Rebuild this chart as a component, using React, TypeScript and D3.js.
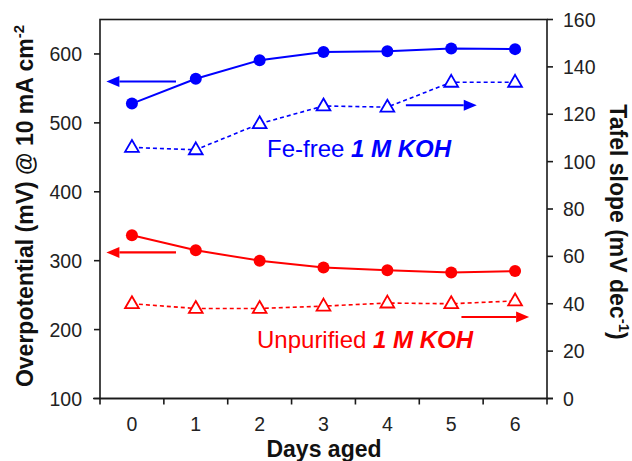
import React from "react";
import * as d3 from "d3";

// Days aged (x categories)
const days = [0, 1, 2, 3, 4, 5, 6];

// Overpotential @ 10 mA cm-2 (left axis, mV)
const overpotFeFree = [528, 564, 591, 603, 604, 608, 607];
const overpotUnpurified = [337, 315, 300, 290, 286, 283, 285];

// Tafel slope (right axis, mV dec-1)
const tafelFeFree = [106, 105, 116, 123.5, 123, 133.5, 133.5];
const tafelUnpurified = [40, 38, 38, 39, 40.3, 40, 41.2];

// Tick values
const leftTicks = [100, 200, 300, 400, 500, 600];
const rightTicks = [0, 20, 40, 60, 80, 100, 120, 140, 160];

// Axis-pointer arrows: from day, to day, value, axis, colour
const arrowFrom = [0.69, 4.29, 0.69, 5.16];
const arrowTo = [-0.4, 5.4, -0.4, 6.22];
const arrowValue = [560, 123.8, 312, 34.4];
const arrowAxis = ["left", "right", "left", "right"];
const arrowColor = ["#0000ff", "#0000ff", "#ff0000", "#ff0000"];

const W = 632;
const H = 461;
const L = 100;
const R = 547;
const T = 19.5;
const B = 398.5;
const FONT = "'Liberation Sans', Arial, Helvetica, sans-serif";

export default function App() {
  const x = d3.scaleBand<number>().domain(days).range([L, R]).paddingInner(0).paddingOuter(0);
  const cx = (d: number) => (x(0) as number) + x.bandwidth() / 2 + d * x.bandwidth();
  const yL = d3.scaleLinear().domain([100, 650]).range([B, T]);
  const yR = d3.scaleLinear().domain([0, 160]).range([B, T]);

  const line = d3.line<[number, number]>().x((p) => p[0]).y((p) => p[1]);

  const series = [
    { vals: overpotFeFree, y: yL, color: "#0000ff", kind: "circle" },
    { vals: tafelFeFree, y: yR, color: "#0000ff", kind: "triangle" },
    { vals: overpotUnpurified, y: yL, color: "#ff0000", kind: "circle" },
    { vals: tafelUnpurified, y: yR, color: "#ff0000", kind: "triangle" },
  ];

  const tri = d3.symbol().type(d3.symbolTriangle).size(82)();

  const boundaries = days.map((d) => x(d) as number).concat([R]);

  return (
    <svg width={W} height={H} style={{ position: "absolute", left: 0, top: 0, background: "#fff" }} fontFamily={FONT}>
      <rect x={0} y={0} width={W} height={H} fill="#fff" />
      {/* plot frame */}
      <rect x={L} y={T} width={R - L} height={B - T} fill="none" stroke="#1a1a1a" strokeWidth={1.6} />

      {/* bottom ticks and labels */}
      {boundaries.map((bx, i) => (
        <line key={"xb" + i} x1={bx} x2={bx} y1={B} y2={B + 6} stroke="#1a1a1a" strokeWidth={1.6} />
      ))}
      <line x1={L - 7} x2={R + 6} y1={B} y2={B} stroke="#1a1a1a" strokeWidth={1.6} />
      {days.map((d) => (
        <text key={"xl" + d} x={cx(d)} y={431} textAnchor="middle" fontSize={19.5} fill="#222">
          {d}
        </text>
      ))}
      <text x={324} y={457} textAnchor="middle" fontSize={23} fontWeight="bold" fill="#111">
        Days aged
      </text>

      {/* left axis */}
      {leftTicks.map((v) => (
        <g key={"yl" + v}>
          <line x1={L - 6} x2={L} y1={yL(v)} y2={yL(v)} stroke="#1a1a1a" strokeWidth={1.6} />
          <text x={82} y={yL(v) + 7} textAnchor="end" fontSize={19.5} fill="#222">
            {v}
          </text>
        </g>
      ))}
      <text
        transform={`translate(33, 206) rotate(-90)`}
        textAnchor="middle"
        fontSize={23}
        fontWeight="bold"
        fill="#111"
      >
        Overpotential (mV) @ 10 mA cm
        <tspan fontSize={15} dy={-9}>-2</tspan>
      </text>

      {/* right axis */}
      {rightTicks.map((v) => (
        <g key={"yr" + v}>
          <line x1={R} x2={R + 6} y1={yR(v)} y2={yR(v)} stroke="#1a1a1a" strokeWidth={1.6} />
          <text x={563} y={yR(v) + 7} textAnchor="start" fontSize={19.5} fill="#222">
            {v}
          </text>
        </g>
      ))}
      <text
        transform={`translate(610, 222) rotate(90)`}
        textAnchor="middle"
        fontSize={23}
        fontWeight="bold"
        fill="#111"
      >
        Tafel slope (mV dec
        <tspan fontSize={15} dy={-9}>-1</tspan>
        <tspan dy={9}>)</tspan>
      </text>

      {/* series */}
      {series.map((s, si) => {
        const pts = s.vals.map((v, i) => [cx(days[i]), s.y(v)] as [number, number]);
        return (
          <g key={"s" + si}>
            <path
              d={line(pts) as string}
              fill="none"
              stroke={s.color}
              strokeWidth={s.kind === "circle" ? 2 : 1.6}
              strokeDasharray={s.kind === "circle" ? undefined : "4,3"}
            />
            {pts.map((p, i) =>
              s.kind === "circle" ? (
                <circle key={i} cx={p[0]} cy={p[1]} r={6} fill={s.color} />
              ) : (
                <path
                  key={i}
                  d={tri as string}
                  transform={`translate(${p[0]},${p[1] + 0.5})`}
                  fill="#fff"
                  stroke={s.color}
                  strokeWidth={1.8}
                />
              )
            )}
          </g>
        );
      })}

      {/* arrows pointing to each series' axis */}
      {arrowFrom.map((f, i) => {
        const y = arrowAxis[i] === "left" ? yL(arrowValue[i]) : yR(arrowValue[i]);
        const x1 = cx(f);
        const x2 = cx(arrowTo[i]);
        const dir = Math.sign(x2 - x1);
        const head = 13;
        return (
          <g key={"a" + i}>
            <line x1={x1} x2={x2 - dir * head} y1={y} y2={y} stroke={arrowColor[i]} strokeWidth={2.2} />
            <path
              d={`M${x2},${y} L${x2 - dir * head},${y - 5.5} L${x2 - dir * head},${y + 5.5} Z`}
              fill={arrowColor[i]}
            />
          </g>
        );
      })}

      {/* series annotations */}
      <text x={267} y={157} fontSize={24} fill="#0000ff">
        Fe-free <tspan fontWeight="bold" fontStyle="italic">1 M KOH</tspan>
      </text>
      <text x={257} y={348} fontSize={24} fill="#ff0000">
        Unpurified <tspan fontWeight="bold" fontStyle="italic">1 M KOH</tspan>
      </text>
    </svg>
  );
}
